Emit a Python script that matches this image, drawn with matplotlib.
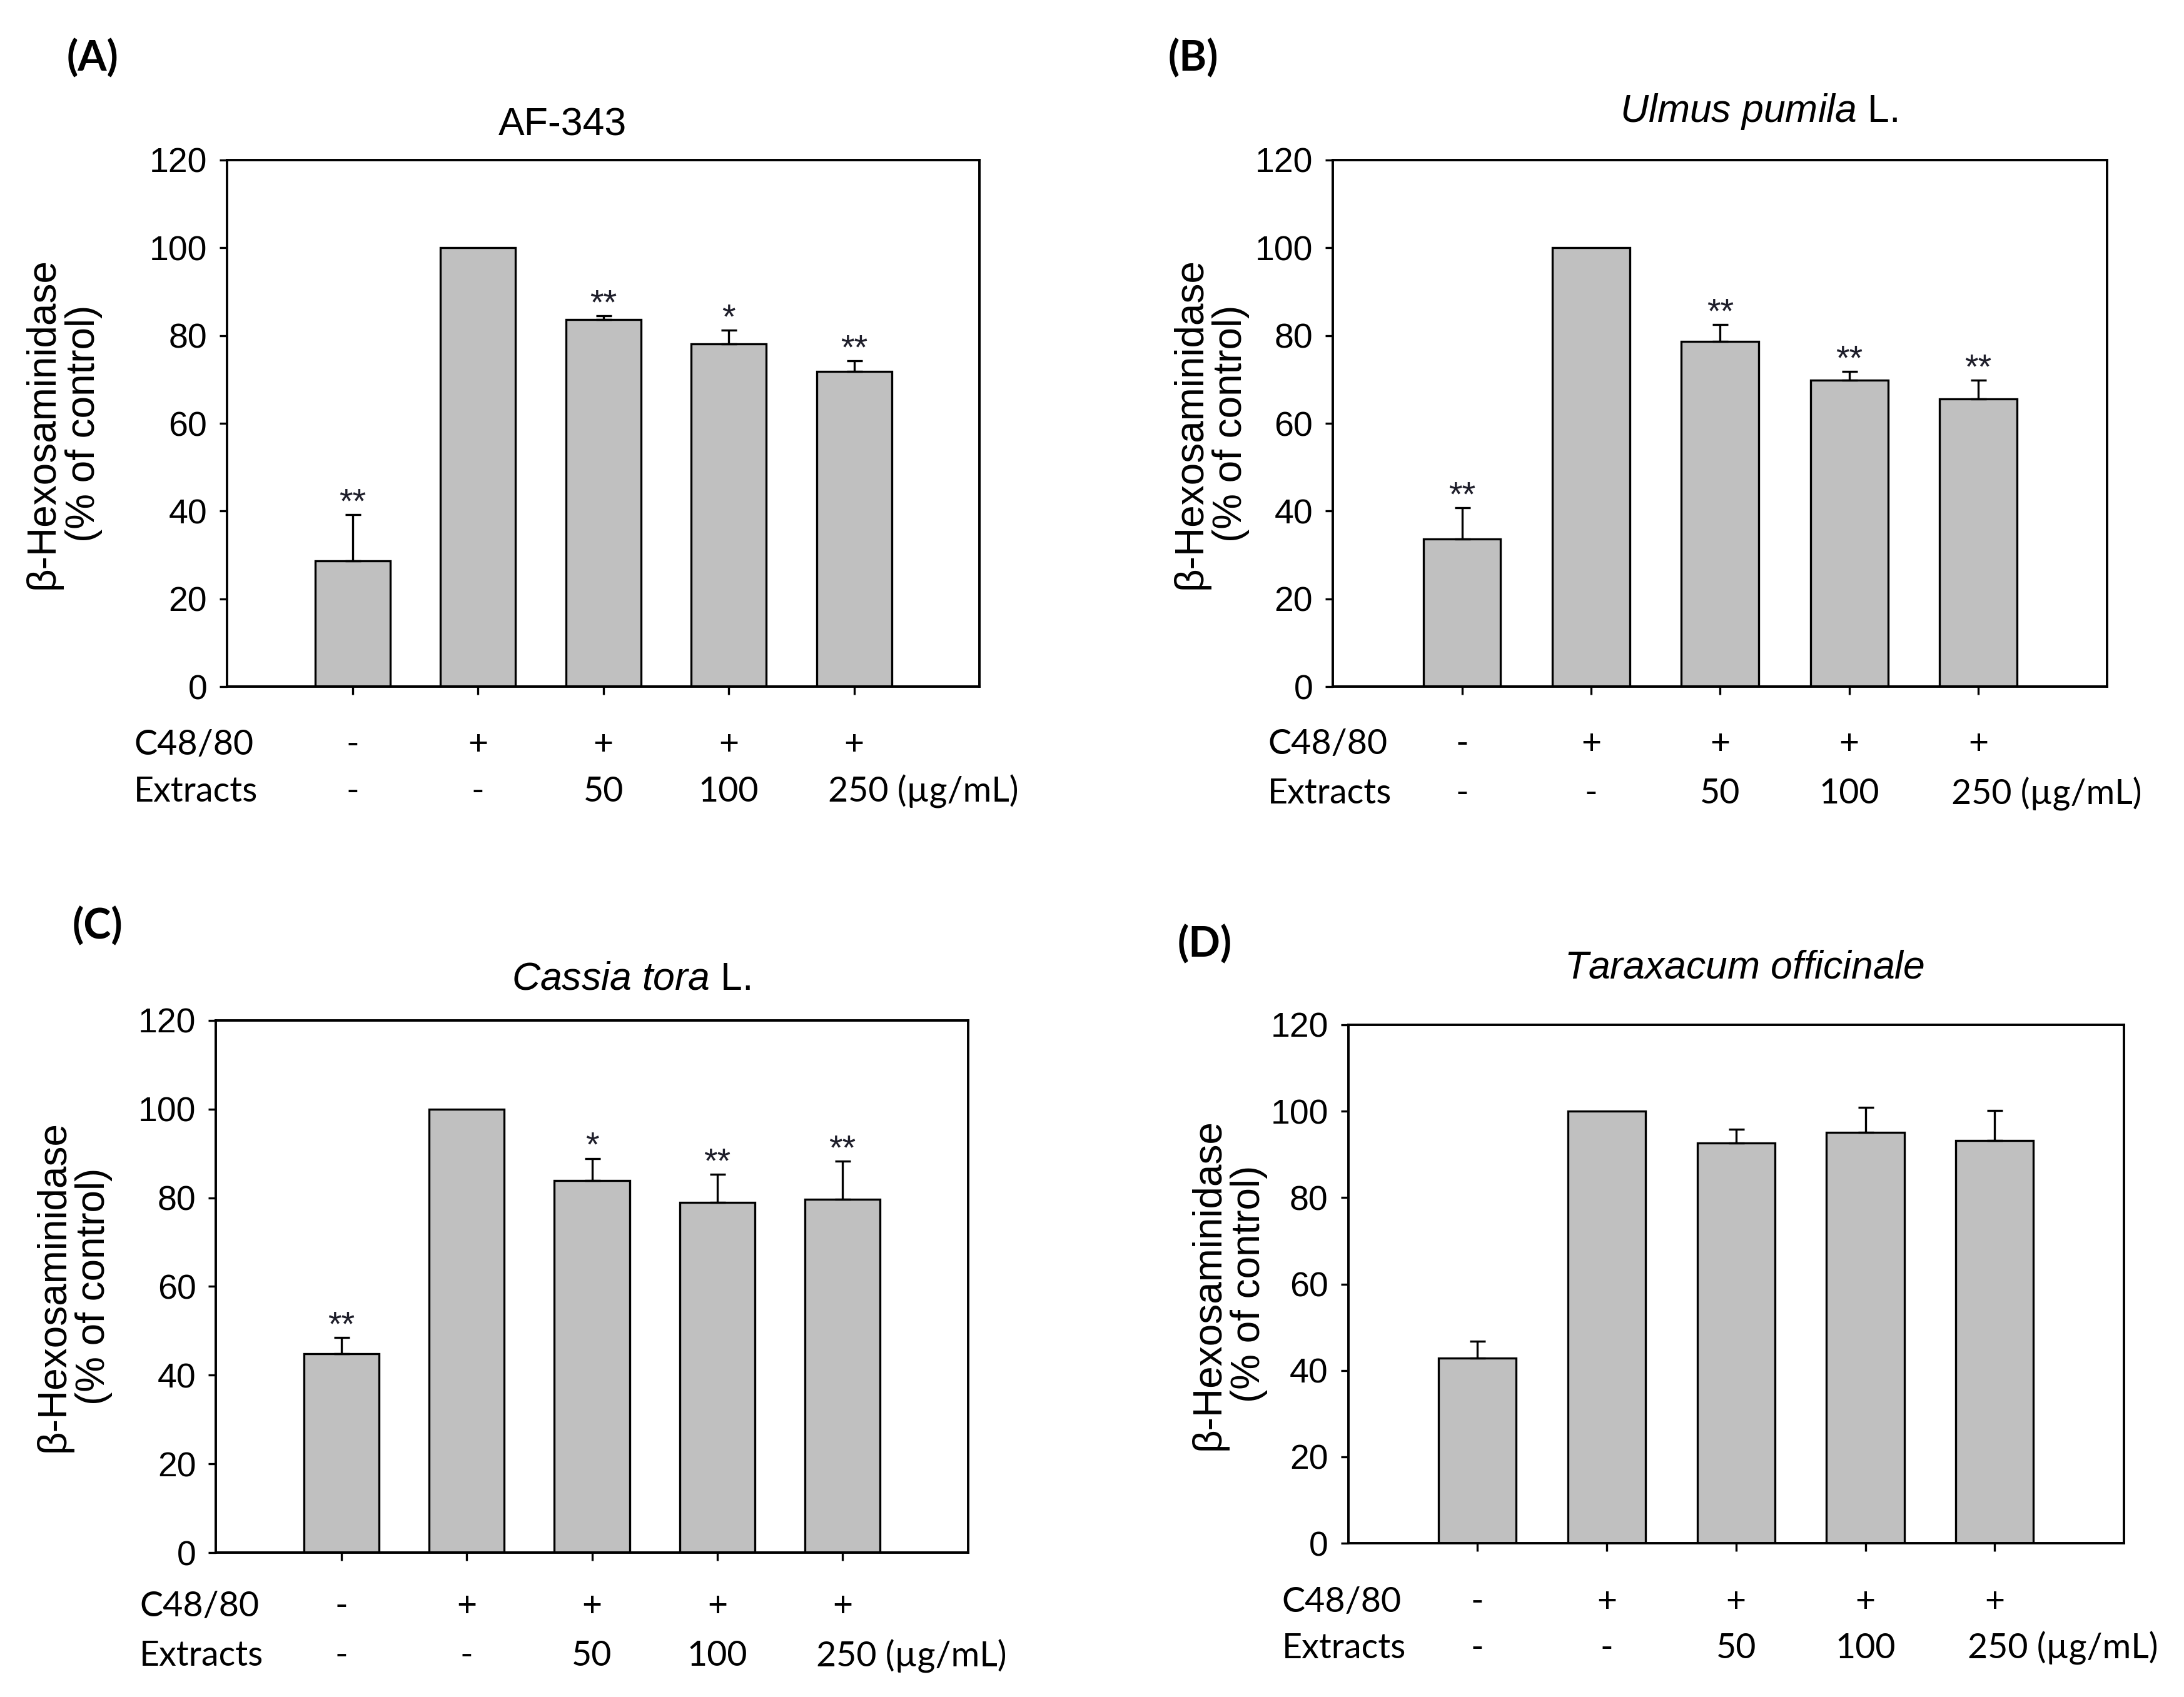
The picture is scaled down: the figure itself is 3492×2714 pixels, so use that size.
import matplotlib
matplotlib.use("Agg")
import matplotlib.pyplot as plt
from matplotlib.transforms import blended_transform_factory

plt.rcParams['font.family'] = ['Liberation Sans', 'DejaVu Sans']
plt.rcParams['mathtext.fontset'] = 'custom'
plt.rcParams['mathtext.rm'] = 'Liberation Sans'
plt.rcParams['mathtext.it'] = 'Liberation Sans:italic'

# ---------------- data ----------------
c4880_labels = ['-', '+', '+', '+', '+']
extract_labels = ['-', '-', '50', '100', '250 (µg/mL)']

titles = ['AF-343', r'$\mathit{Ulmus\ pumila}$ L.', r'$\mathit{Cassia\ tora}$ L.',
          r'$\mathit{Taraxacum\ officinale}$']
panel_tags = ['(A)', '(B)', '(C)', '(D)']

vals_A = [28.6, 100, 83.7, 78.1, 71.8]
err_A = [10.6, 0, 0.8, 3.1, 2.5]
stars_A = ['**', '', '**', '*', '**']

vals_B = [33.7, 100, 78.7, 69.9, 65.5]
err_B = [7.0, 0, 3.8, 1.9, 4.4]
stars_B = ['**', '', '**', '**', '**']

vals_C = [44.8, 100, 83.9, 79.0, 79.6]
err_C = [3.7, 0, 5.0, 6.3, 8.7]
stars_C = ['**', '', '*', '**', '**']

vals_D = [42.9, 100, 92.7, 95.1, 93.2]
err_D = [3.9, 0, 3.1, 5.8, 7.0]
stars_D = ['', '', '', '', '']

yticks = [0, 20, 40, 60, 80, 100, 120]
ylabel = 'β-Hexosaminidase\n(% of control)'

# ---------------- layout ----------------
W, H = 3492, 2714
fig = plt.figure(figsize=(W / 200, H / 200), dpi=200)

panels = [
    dict(rect=[0.1040, 0.5954, 0.3445, 0.3103], vals=vals_A, err=err_A, stars=stars_A,
         title_xy=(0.2577, 0.9263), tag_xy=(0.0306, 0.9654), ylab_x=0.0290,
         row_x=0.0613, row_y=(0.5608, 0.5335)),
    dict(rect=[0.6103, 0.5954, 0.3546, 0.3103], vals=vals_B, err=err_B, stars=stars_B,
         title_xy=(0.8053, 0.9344), tag_xy=(0.5347, 0.9654), ylab_x=0.5544,
         row_x=0.5805, row_y=(0.5615, 0.5321)),
    dict(rect=[0.0989, 0.0851, 0.3443, 0.3136], vals=vals_C, err=err_C, stars=stars_C,
         title_xy=(0.2889, 0.4230), tag_xy=(0.0332, 0.4539), ylab_x=0.0338,
         row_x=0.0639, row_y=(0.0534, 0.0240)),
    dict(rect=[0.6173, 0.0906, 0.3552, 0.3055], vals=vals_D, err=err_D, stars=stars_D,
         title_xy=(0.7987, 0.4296), tag_xy=(0.5392, 0.4433), ylab_x=0.5627,
         row_x=0.5870, row_y=(0.0560, 0.0287)),
]

row_font = ['Lato', 'DejaVu Sans']

for i, p in enumerate(panels):
    ax = fig.add_axes(p['rect'])
    x = list(range(len(p['vals'])))
    ax.bar(x, p['vals'], width=0.6, color='#c0c0c0', edgecolor='black',
           linewidth=1.2, zorder=2)
    for xi, v, e in zip(x, p['vals'], p['err']):
        if e > 0:
            ax.errorbar([xi], [v], yerr=[[0], [e]], fmt='none', ecolor='black',
                        elinewidth=1.2, capsize=4.5, capthick=1.2, zorder=3)
    for xi, v, e, s in zip(x, p['vals'], p['err'], p['stars']):
        if s:
            ax.text(xi, v + e + 2.5, s, ha='center', va='center', fontsize=20,
                    color='#1e1e2a', zorder=4)
    ax.set_xlim(-1, 5)
    ax.set_ylim(0, 120)
    ax.set_yticks(yticks)
    ax.set_xticks(x)
    ax.set_xticklabels([])
    for sp in ax.spines.values():
        sp.set_linewidth(1.4)
    ax.tick_params(axis='y', direction='out', length=4.5, width=1.2, labelsize=20, pad=7)
    ax.tick_params(axis='x', direction='out', length=4.5, width=1.2)

    l, b, w, h = p['rect']
    fig.text(p['ylab_x'], b + h / 2, ylabel, rotation=90, ha='center', va='center',
             fontsize=23, linespacing=1.1, multialignment='center')

    fig.text(p['title_xy'][0], p['title_xy'][1], titles[i], ha='center', va='center',
             fontsize=22.5)
    fig.text(p['tag_xy'][0], p['tag_xy'][1], panel_tags[i], ha='left', va='center',
             fontsize=24, fontweight='bold', family=row_font)

    tr = blended_transform_factory(ax.transData, fig.transFigure)
    fig.text(p['row_x'], p['row_y'][0], 'C48/80', ha='left', va='center',
             fontsize=20, family=row_font)
    fig.text(p['row_x'], p['row_y'][1], 'Extracts', ha='left', va='center',
             fontsize=20, family=row_font)
    for xi, lab in zip(x, c4880_labels):
        ax.text(xi, p['row_y'][0], lab, transform=tr, ha='center', va='center',
                fontsize=20, family=row_font)
    for xi, lab in zip(x, extract_labels):
        if '(' in lab:
            ax.text(xi - 0.21, p['row_y'][1], lab, transform=tr, ha='left', va='center',
                    fontsize=20, family=row_font)
        else:
            ax.text(xi, p['row_y'][1], lab, transform=tr, ha='center', va='center',
                    fontsize=20, family=row_font)

fig.savefig('out.png', dpi=200, facecolor='white')
